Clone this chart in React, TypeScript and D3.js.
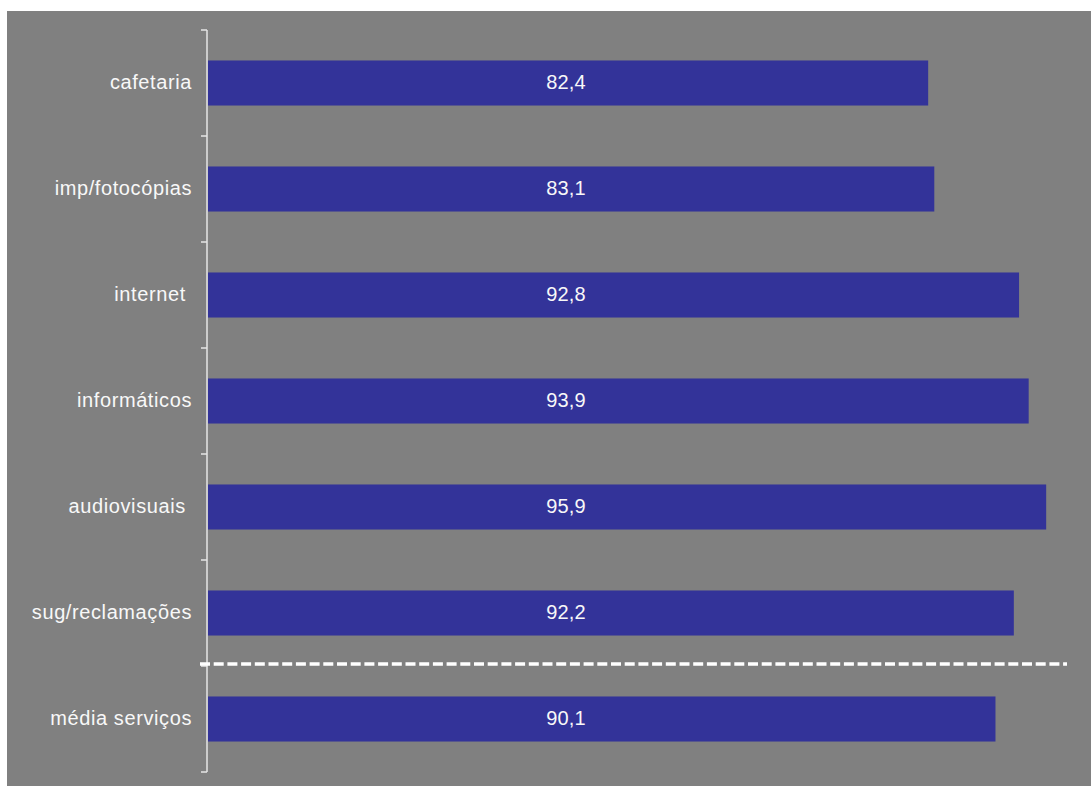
import React from "react";
import * as d3 from "d3";

const categories = [
  "cafetaria",
  "imp/fotocópias",
  "internet ",
  "informáticos",
  "audiovisuais ",
  "sug/reclamações",
  "média serviços",
];
const values = [82.4, 83.1, 92.8, 93.9, 95.9, 92.2, 90.1];
const valueLabels = ["82,4", "83,1", "92,8", "93,9", "95,9", "92,2", "90,1"];

const W = 1091;
const H = 786;

export default function App() {
  const x = d3.scaleLinear().domain([0, 100]).range([208, 1082]);
  const y = d3
    .scaleBand<string>()
    .domain(categories)
    .range([30, 772])
    .paddingInner(0.575)
    .paddingOuter(0.2875);
  const outer = d3.scaleBand<string>().domain(categories).range([30, 772]).padding(0);
  const tickYs = [...categories.map((c) => outer(c) as number), 772];
  const dashY = (outer(categories[categories.length - 1]) as number) - 2;
  const font = "'Liberation Sans', Arial, sans-serif";

  return (
    <div style={{ position: "absolute", left: 0, top: 0 }}>
      <svg width={W} height={H} style={{ display: "block" }}>
        <rect x={0} y={0} width={W} height={H} fill="#ffffff" />
        <rect x={7} y={11} width={W - 7} height={H - 11} fill="#808080" />
        {categories.map((c, i) => {
          const yy = y(c) as number;
          const bw = y.bandwidth();
          return (
            <g key={c}>
              <rect x={x(0)} y={yy} width={x(values[i]) - x(0)} height={bw} fill="#333399" />
              <text
                x={566}
                y={yy + bw / 2 + 6}
                textAnchor="middle"
                fill="#f8f8f8"
                fontFamily={font}
                fontSize={20}
                letterSpacing={0.2}
              >
                {valueLabels[i]}
              </text>
              <text
                x={192}
                y={yy + bw / 2 + 6}
                textAnchor="end"
                fill="#f8f8f8"
                fontFamily={font}
                fontSize={20}
                letterSpacing={0.6}
                style={{ whiteSpace: "pre" }}
              >
                {c}
              </text>
            </g>
          );
        })}
        <line x1={207} x2={207} y1={30} y2={772} stroke="#e6e6e6" strokeWidth={1.5} />
        {tickYs.map((t, i) => (
          <line key={i} x1={201} x2={207} y1={t} y2={t} stroke="#e6e6e6" strokeWidth={1.5} />
        ))}
        <line
          x1={200}
          x2={1067}
          y1={dashY}
          y2={dashY}
          stroke="#ffffff"
          strokeWidth={3.5}
          strokeDasharray="10,3.7"
        />
      </svg>
    </div>
  );
}
